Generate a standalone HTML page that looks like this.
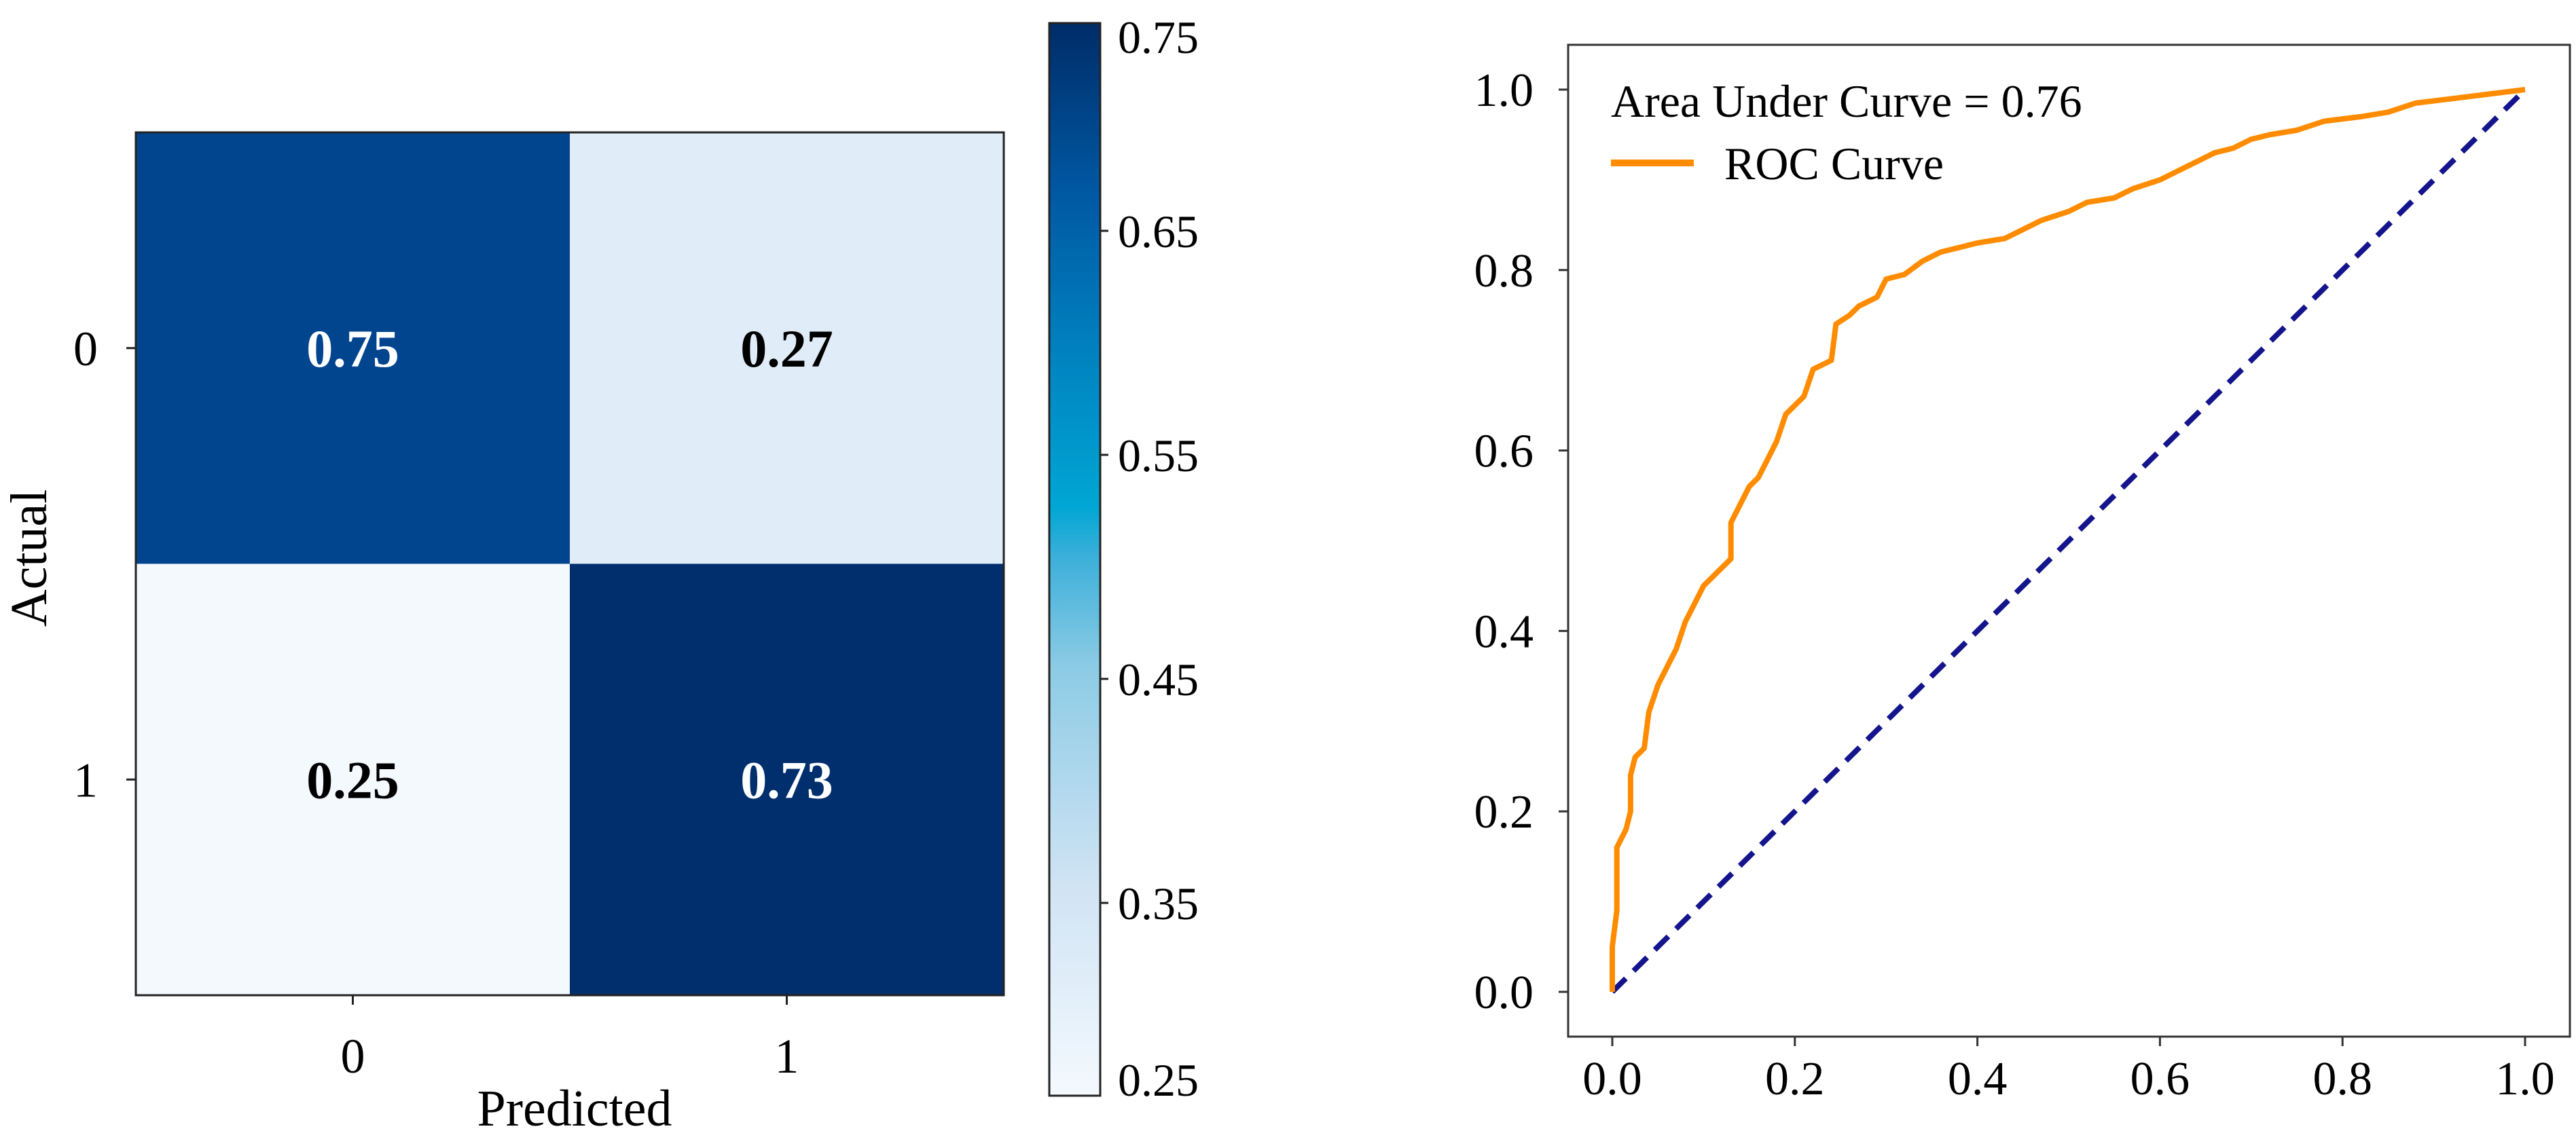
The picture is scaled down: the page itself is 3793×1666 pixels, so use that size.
<!DOCTYPE html>
<html><head><meta charset="utf-8"><style>
html,body{margin:0;padding:0;background:#fff;}
svg{display:block;font-family:"Liberation Serif",serif;}
</style></head><body>
<svg id="fig" width="3793" height="1666" viewBox="0 0 3793 1666" xmlns="http://www.w3.org/2000/svg">
<defs>
<linearGradient id="cbg" x1="0" y1="1" x2="0" y2="0">
<stop offset="0" stop-color="#f4f9fe"/>
<stop offset="0.2" stop-color="#cfe3f4"/>
<stop offset="0.4" stop-color="#8ccbe5"/>
<stop offset="0.5" stop-color="#3eb0da"/>
<stop offset="0.55" stop-color="#00a6d4"/>
<stop offset="0.7" stop-color="#0080be"/>
<stop offset="0.85" stop-color="#0056a0"/>
<stop offset="1" stop-color="#002c68"/>
</linearGradient>
</defs>
<g id="cm"></g>
<g id="cb"></g>
<g id="roc"></g>
</svg>
<script>
const cmRows = ["0","1"];
const cmCols = ["0","1"];
const cmValues = [[0.75,0.27],[0.25,0.73]];
const cmColors = [["#02458f","#e0edf8"],["#f4f9fe","#012e6c"]];
const cbTicks = [0.65,0.55,0.45,0.35];
const cbEndLabels = ["0.75","0.25"];
const rocX = [0,0,0.005,0.005,0.01,0.015,0.02,0.02,0.025,0.035,0.04,0.05,0.06,0.07,0.08,0.09,0.1,0.11,0.12,0.13,0.13,0.14,0.15,0.16,0.17,0.18,0.19,0.2,0.21,0.22,0.24,0.245,0.26,0.27,0.29,0.3,0.32,0.34,0.36,0.38,0.4,0.43,0.45,0.47,0.5,0.52,0.55,0.57,0.6,0.62,0.64,0.66,0.68,0.7,0.72,0.75,0.78,0.82,0.85,0.88,0.92,0.96,1];
const rocY = [0,0.05,0.09,0.16,0.17,0.18,0.2,0.24,0.26,0.27,0.31,0.34,0.36,0.38,0.41,0.43,0.45,0.46,0.47,0.48,0.52,0.54,0.56,0.57,0.59,0.61,0.64,0.65,0.66,0.69,0.7,0.74,0.75,0.76,0.77,0.79,0.795,0.81,0.82,0.825,0.83,0.835,0.845,0.855,0.865,0.875,0.88,0.89,0.9,0.91,0.92,0.93,0.935,0.945,0.95,0.955,0.965,0.97,0.975,0.985,0.99,0.995,1];
const rocTicks = [0,0.2,0.4,0.6,0.8,1.0];

const NS="http://www.w3.org/2000/svg";
function mk(parent,tag,attrs,text){const e=document.createElementNS(NS,tag);for(const k in attrs)e.setAttribute(k,attrs[k]);if(text!==undefined)e.textContent=text;parent.appendChild(e);return e;}

// confusion matrix
const cm=document.getElementById('cm');
const L=200,R=1478,T=195,B=1466;
const cw=(R-L)/cmCols.length, ch=(B-T)/cmRows.length;
cmValues.forEach((row,i)=>row.forEach((v,j)=>{
  const r=mk(cm,'rect',{x:L+j*cw,y:T+i*ch,width:cw,height:ch,fill:cmColors[i][j]});
  
  
  const t=mk(cm,'text',{x:L+j*cw+cw/2,y:T+i*ch+ch/2+27,'text-anchor':'middle','font-size':78,'font-weight':'bold',fill:v>0.5?'#fff':'#000'},v.toFixed(2));
  
  
}));
const fr=mk(cm,'rect',{x:L,y:T,width:R-L,height:B-T,fill:'none',stroke:'#222','stroke-width':3});


cmRows.forEach((lab,i)=>{
  const y=T+i*ch+ch/2;
  mk(cm,'line',{x1:L-14,x2:L,y1:y,y2:y,stroke:'#222','stroke-width':3});
  const t=mk(cm,'text',{x:L-74,y:y+25,'text-anchor':'middle','font-size':72},lab);
  
  
});
cmCols.forEach((lab,j)=>{
  const x=L+j*cw+cw/2;
  mk(cm,'line',{x1:x,x2:x,y1:B,y2:B+14,stroke:'#222','stroke-width':3});
  const t=mk(cm,'text',{x:x,y:1580,'text-anchor':'middle','font-size':72},lab);
  
  
});
const xt=mk(cm,'text',{x:846,y:1658,'text-anchor':'middle','font-size':76},'Predicted');


const yt=mk(cm,'text',{x:0,y:0,'text-anchor':'middle','font-size':76,transform:'translate(68,822) rotate(-90)'},'Actual');



// colorbar
const cb=document.getElementById('cb');
const cbL=1545,cbR=1620,cbT=34,cbB=1614;
function cbY(v){return 340+(0.65-v)*3300;}
const bar=mk(cb,'rect',{x:cbL,y:cbT,width:cbR-cbL,height:cbB-cbT,fill:'url(#cbg)',stroke:'#222','stroke-width':3});


cbTicks.forEach(v=>{
  const y=cbY(v);
  mk(cb,'line',{x1:cbR,x2:cbR+12,y1:y,y2:y,stroke:'#222','stroke-width':3});
  const t=mk(cb,'text',{x:cbR+26,y:y+24,'font-size':68},v.toFixed(2));
  
  
});
[[cbEndLabels[0],78],[cbEndLabels[1],1614]].forEach(([s,y])=>{
  const t=mk(cb,'text',{x:cbR+26,y:y,'font-size':68},s);
  
  
});

// ROC
const roc=document.getElementById('roc');
const aL=2309,aR=3784,aT=66,aB=1527;
const x0=2374,x1=3718,y0=1461,y1=132;
const sx=v=>x0+v*(x1-x0), sy=v=>y0-v*(y0-y1);
const box=mk(roc,'rect',{x:aL,y:aT,width:aR-aL,height:aB-aT,fill:'none',stroke:'#333','stroke-width':3});


rocTicks.forEach(v=>{
  mk(roc,'line',{x1:sx(v),x2:sx(v),y1:aB,y2:aB+14,stroke:'#333','stroke-width':3});
  const t=mk(roc,'text',{x:sx(v),y:1612,'text-anchor':'middle','font-size':70},v.toFixed(1));
  
  
  mk(roc,'line',{x1:aL-14,x2:aL,y1:sy(v),y2:sy(v),stroke:'#333','stroke-width':3});
  const u=mk(roc,'text',{x:2258,y:sy(v)+24,'text-anchor':'end','font-size':70},v.toFixed(1));
  
  
});
const diag=mk(roc,'line',{x1:sx(0),y1:sy(0),x2:sx(1),y2:sy(1),stroke:'#14148c','stroke-width':8,'stroke-dasharray':'28 16'});


const pts=rocX.map((x,i)=>sx(x).toFixed(1)+','+sy(rocY[i]).toFixed(1)).join(' ');
const curve=mk(roc,'polyline',{points:pts,fill:'none',stroke:'#ff8c00','stroke-width':8,'stroke-linejoin':'round'});


const auc=mk(roc,'text',{x:2372,y:172,'font-size':68},'Area Under Curve = 0.76');


const lg=mk(roc,'line',{x1:2372,x2:2494,y1:240,y2:240,stroke:'#ff8c00','stroke-width':10});


const lt=mk(roc,'text',{x:2539,y:264,'font-size':68},'ROC Curve');


</script>
</body></html>
